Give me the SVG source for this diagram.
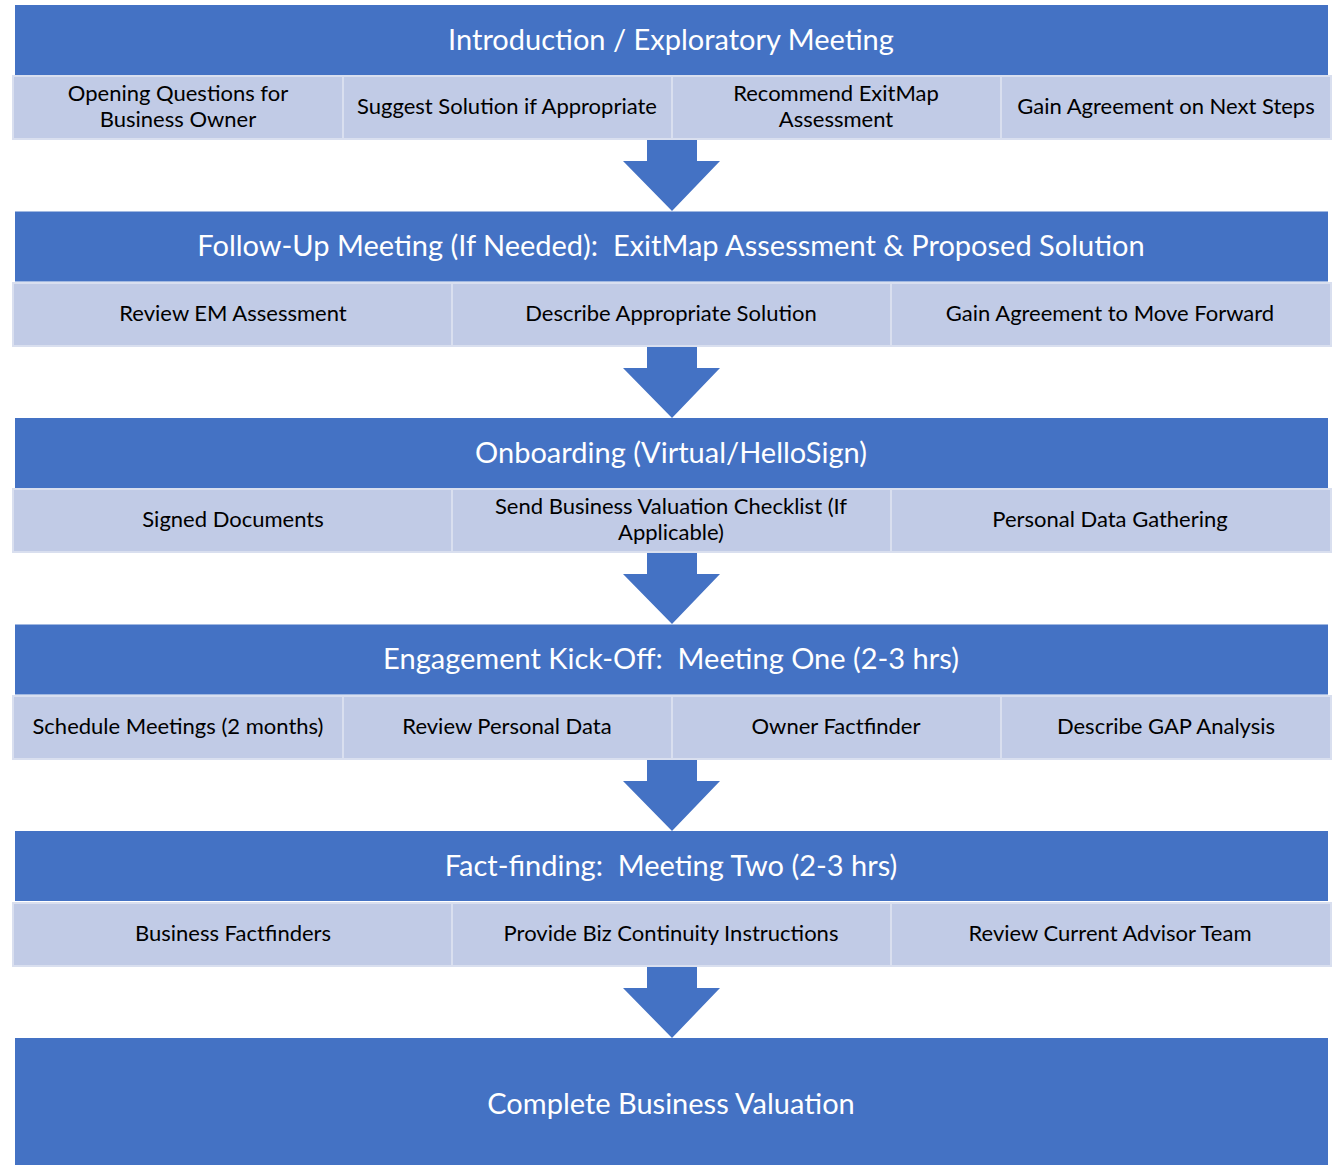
<svg xmlns="http://www.w3.org/2000/svg" width="1337" height="1165" viewBox="0 0 1337 1165">
<style>
.hdr{fill:#4472C4}
.cell{fill:#C1CBE6;stroke:#D9DFEF;stroke-width:2}
.ht{font-family:Lato,"Open Sans",sans-serif;font-size:29px;fill:#FFFFFF;text-anchor:middle;dominant-baseline:central;white-space:pre}
.ct{font-family:Lato,"Open Sans",sans-serif;font-size:22px;fill:#000000;text-anchor:middle;dominant-baseline:central}
.arr{fill:#4472C4}
</style>
<rect width="1337" height="1165" fill="#FFFFFF"/>
<g id="stage1">
<rect class="hdr" x="15" y="5" width="1313" height="70"/>
<text class="ht" x="671" y="38">Introduction / Exploratory Meeting</text>
<rect class="cell" x="13" y="76" width="330" height="63"/>
<rect class="cell" x="343" y="76" width="329" height="63"/>
<rect class="cell" x="672" y="76" width="329" height="63"/>
<rect class="cell" x="1001" y="76" width="330" height="63"/>
<text class="ct" x="178" y="92">Opening Questions for</text>
<text class="ct" x="178" y="118">Business Owner</text>
<text class="ct" x="507" y="105">Suggest Solution if Appropriate</text>
<text class="ct" x="836" y="92">Recommend ExitMap</text>
<text class="ct" x="836" y="118">Assessment</text>
<text class="ct" x="1166" y="105">Gain Agreement on Next Steps</text>
</g>
<g id="stage2">
<rect class="hdr" x="15" y="211.5" width="1313" height="70"/>
<text class="ht" x="671" y="244.5" xml:space="preserve">Follow-Up Meeting (If Needed):  ExitMap Assessment &amp; Proposed Solution</text>
<rect class="cell" x="13" y="283" width="439" height="63"/>
<rect class="cell" x="452" y="283" width="439" height="63"/>
<rect class="cell" x="891" y="283" width="440" height="63"/>
<text class="ct" x="233" y="312">Review EM Assessment</text>
<text class="ct" x="671" y="312">Describe Appropriate Solution</text>
<text class="ct" x="1110" y="312">Gain Agreement to Move Forward</text>
</g>
<g id="stage3">
<rect class="hdr" x="15" y="418" width="1313" height="70"/>
<text class="ht" x="671" y="451">Onboarding (Virtual/HelloSign)</text>
<rect class="cell" x="13" y="489" width="439" height="63"/>
<rect class="cell" x="452" y="489" width="439" height="63"/>
<rect class="cell" x="891" y="489" width="440" height="63"/>
<text class="ct" x="233" y="518">Signed Documents</text>
<text class="ct" x="671" y="505">Send Business Valuation Checklist (If</text>
<text class="ct" x="671" y="531">Applicable)</text>
<text class="ct" x="1110" y="518">Personal Data Gathering</text>
</g>
<g id="stage4">
<rect class="hdr" x="15" y="624.5" width="1313" height="70"/>
<text class="ht" x="671" y="657.5" xml:space="preserve">Engagement Kick-Off:  Meeting One (2-3 hrs)</text>
<rect class="cell" x="13" y="696" width="330" height="63"/>
<rect class="cell" x="343" y="696" width="329" height="63"/>
<rect class="cell" x="672" y="696" width="329" height="63"/>
<rect class="cell" x="1001" y="696" width="330" height="63"/>
<text class="ct" x="178" y="725">Schedule Meetings (2 months)</text>
<text class="ct" x="507" y="725">Review Personal Data</text>
<text class="ct" x="836" y="725">Owner Factfinder</text>
<text class="ct" x="1166" y="725">Describe GAP Analysis</text>
</g>
<g id="stage5">
<rect class="hdr" x="15" y="831" width="1313" height="70"/>
<text class="ht" x="671" y="864" xml:space="preserve">Fact-finding:  Meeting Two (2-3 hrs)</text>
<rect class="cell" x="13" y="903" width="439" height="63"/>
<rect class="cell" x="452" y="903" width="439" height="63"/>
<rect class="cell" x="891" y="903" width="440" height="63"/>
<text class="ct" x="233" y="932">Business Factfinders</text>
<text class="ct" x="671" y="932">Provide Biz Continuity Instructions</text>
<text class="ct" x="1110" y="932">Review Current Advisor Team</text>
</g>
<g id="stage6">
<rect class="hdr" x="15" y="1038" width="1313" height="127"/>
<text class="ht" x="671" y="1102">Complete Business Valuation</text>
</g>
<g id="connectors">
<polygon class="arr" points="647,140 697,140 697,161 720,161 672,211 623,161 647,161"/>
<polygon class="arr" points="647,347 697,347 697,368 720,368 672,418 623,368 647,368"/>
<polygon class="arr" points="647,553 697,553 697,574 720,574 672,624 623,574 647,574"/>
<polygon class="arr" points="647,760 697,760 697,781 720,781 672,831 623,781 647,781"/>
<polygon class="arr" points="647,967 697,967 697,988 720,988 672,1038 623,988 647,988"/>
</g>
</svg>
